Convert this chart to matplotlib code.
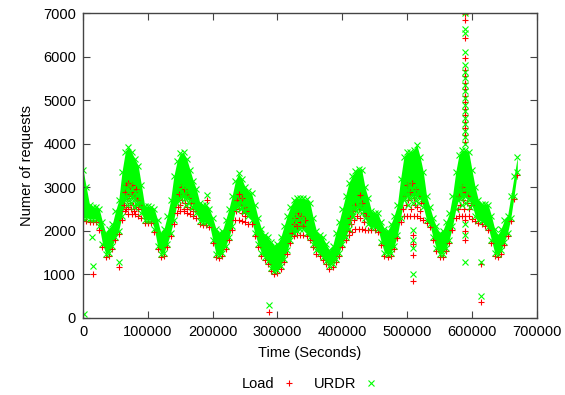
import matplotlib
matplotlib.use("Agg")
import matplotlib.pyplot as plt
from matplotlib.lines import Line2D

plt.rcParams['font.family'] = ['Liberation Sans', 'DejaVu Sans']

# sampling grid of the envelopes (seconds)
time_s = list(range(0, 670001, 5000))

# top of the URDR band
urdr_hi = [3400, 3000, 2600, 2550, 2550, 2500, 2200, 1950, 2050, 2150,
           2450, 2700, 3350, 3800, 3930, 3800, 3650, 3500, 3050, 2580,
           2560, 2550, 2500, 2250, 1950, 2050, 2350, 2700, 3250, 3600,
           3780, 3800, 3650, 3400, 3150, 2950, 2650, 2600, 2600, 2500,
           2300, 2050, 1950, 2000, 2250, 2500, 2800, 3150, 3320, 3200,
           3000, 2920, 2860, 2600, 2300, 2050, 1900, 1850, 1750, 1650,
           1700, 1850, 2100, 2350, 2550, 2700, 2750, 2750, 2750, 2720,
           2650, 2300, 2000, 1900, 1850, 1700, 1550, 1650, 1950, 2200,
           2500, 2800, 3100, 3250, 3380, 3430, 3400, 3000, 2750, 2450,
           2420, 2400, 2200, 2050, 2000, 2150, 2350, 2600, 3200, 3700,
           3800, 3820, 3850, 3980, 3700, 3350, 2800, 2550, 2300, 2100,
           1950, 2000, 2200, 2400, 2800, 3350, 3750, 3850, 3850, 3820,
           3400, 3000, 2700, 2620, 2620, 2600, 2350, 2050, 1900, 2050,
           2250, 2350, 2800, 3250, 3700]

# bottom of the dense URDR band
urdr_lo = [2300, 2300, 2280, 2280, 2280, 2100, 1700, 1480, 1500, 1650,
           1850, 2000, 2350, 2700, 2800, 2800, 2750, 2650, 2400, 2250,
           2250, 2250, 2050, 1650, 1480, 1500, 1700, 1950, 2250, 2650,
           2750, 2800, 2750, 2700, 2550, 2400, 2230, 2200, 2200, 2150,
           1800, 1480, 1450, 1500, 1650, 1850, 2100, 2500, 2600, 2550,
           2450, 2350, 2250, 1950, 1700, 1500, 1400, 1300, 1150, 1080,
           1100, 1200, 1350, 1550, 1800, 1950, 2000, 2050, 2050, 1950,
           1850, 1700, 1550, 1500, 1400, 1300, 1200, 1250, 1350, 1500,
           1700, 1850, 2050, 2350, 2500, 2550, 2500, 2300, 2150, 2080,
           2080, 2050, 1750, 1500, 1460, 1500, 1650, 1900, 2300, 2750,
           2800, 2800, 2800, 2800, 2750, 2550, 2250, 2150, 1850, 1600,
           1460, 1480, 1600, 1800, 2100, 2500, 2750, 2800, 2800, 2750,
           2600, 2350, 2250, 2220, 2180, 2080, 1800, 1500, 1460, 1550,
           1750, 1950, 2300, 2800, 3350]

# bottom of the Load band
load_lo = [2230, 2230, 2210, 2210, 2210, 2030, 1630, 1410, 1430, 1580,
           1780, 1930, 2250, 2450, 2380, 2380, 2380, 2350, 2300, 2180,
           2180, 2180, 1980, 1580, 1410, 1430, 1630, 1880, 2150, 2400,
           2450, 2450, 2400, 2380, 2350, 2300, 2160, 2130, 2130, 2080,
           1730, 1410, 1380, 1430, 1580, 1780, 2030, 2250, 2250, 2230,
           2200, 2150, 2150, 1880, 1630, 1430, 1330, 1230, 1080, 1010,
           1030, 1130, 1280, 1480, 1730, 1880, 1900, 1900, 1900, 1880,
           1780, 1630, 1480, 1430, 1330, 1230, 1130, 1180, 1280, 1430,
           1630, 1780, 1900, 1980, 2050, 2050, 2050, 2030, 2030, 2010,
           2010, 1980, 1680, 1430, 1390, 1430, 1580, 1830, 2200, 2350,
           2350, 2350, 2350, 2350, 2300, 2250, 2180, 2080, 1780, 1530,
           1390, 1410, 1530, 1730, 2030, 2300, 2350, 2350, 2350, 2330,
           2280, 2230, 2180, 2150, 2110, 2010, 1730, 1430, 1390, 1480,
           1680, 1880, 2230, 2730, 3280]

# scattered points inside the daily peaks
load_peak = [(63000, 2600), (65000, 2900), (66000, 2500), (67000, 3050), (68000, 2750),
             (69000, 2550), (70000, 3100), (71000, 2850), (72000, 2650), (73000, 3000),
             (74000, 2500), (75000, 2800), (76000, 3050), (77000, 2600), (78000, 2900),
             (79000, 2450), (80000, 2750), (81000, 2950), (82000, 2550), (83000, 2700),
             (85000, 2500), (86000, 2600),
             (146000, 2550), (148000, 2850), (150000, 2600), (151000, 3000), (153000, 2700),
             (155000, 2500), (156000, 2950), (158000, 2650), (160000, 2850), (161000, 2550),
             (163000, 2750), (165000, 2500), (167000, 2650), (169000, 2450),
             (191000, 2700),
             (236000, 2450), (238000, 2700), (240000, 2500), (241000, 2850), (243000, 2600),
             (245000, 2400), (246000, 2750), (248000, 2550), (250000, 2350), (252000, 2450),
             (322000, 1950), (325000, 2150), (327000, 2300), (330000, 2100), (332000, 2400),
             (334000, 2200), (337000, 2350), (339000, 2100), (342000, 2250),
             (410000, 2000), (412000, 2300), (414000, 2150), (416000, 2450), (418000, 2250),
             (420000, 2600), (422000, 2350), (426000, 2500), (427000, 2820), (428000, 2300),
             (430000, 2650), (432000, 2400), (434000, 2200), (436000, 2350),
             (494000, 2500), (496000, 2800), (498000, 2600), (500000, 3050), (502000, 2700),
             (504000, 2900), (506000, 2500), (508000, 3100), (510000, 2750), (512000, 2600),
             (514000, 2950), (516000, 2550), (518000, 2800), (520000, 2450), (522000, 2650),
             (578000, 2500), (580000, 2800), (582000, 2600), (584000, 3000), (586000, 2700),
             (588000, 2500), (590000, 2900), (592000, 2650), (594000, 2800), (596000, 2500),
             (598000, 2600)]

urdr_peak = [(64000, 2750), (66000, 3000), (68000, 2600), (69000, 2900), (71000, 2700),
             (72000, 3050), (74000, 2650), (75000, 2950), (77000, 2750), (78000, 2550),
             (80000, 2900), (81000, 2650), (83000, 2850), (84000, 2600),
             (147000, 2700), (149000, 2950), (152000, 2800), (154000, 3000), (157000, 2750),
             (159000, 2600), (162000, 2900), (164000, 2650), (166000, 2800), (168000, 2550),
             (191000, 2820),
             (237000, 2550), (239000, 2650), (242000, 2700), (244000, 2500), (247000, 2600),
             (249000, 2450),
             (323000, 2100), (326000, 2300), (329000, 2200), (331000, 2450), (335000, 2300),
             (338000, 2200), (341000, 2400),
             (411000, 2200), (413000, 2450), (415000, 2650), (417000, 2350), (419000, 2550),
             (421000, 2450), (423000, 2700), (425000, 2600), (429000, 2500), (431000, 2400),
             (433000, 2550),
             (495000, 2700), (497000, 3000), (499000, 2850), (501000, 2600), (503000, 3050),
             (505000, 2750), (507000, 2950), (509000, 2650), (511000, 2900), (513000, 2700),
             (515000, 3000), (517000, 2650), (519000, 2850),
             (579000, 2700), (581000, 3000), (583000, 2750), (585000, 2600), (587000, 2950),
             (589000, 2800), (591000, 2650), (593000, 2900), (595000, 2700), (597000, 2550)]

# outliers
load_out = [(14900, 1010), (55500, 1160), (286800, 145),
            (509400, 1900), (509400, 1700), (509400, 1450), (509400, 856),
            (589000, 2250), (589000, 2000), (589000, 1790),
            (614700, 1250), (614700, 374)]
urdr_out = [(1000, 100), (13400, 1866), (14900, 1190), (55500, 1290), (286800, 300),
            (509400, 2020), (509400, 1790), (509400, 1600), (509400, 1010),
            (589000, 2150), (589000, 1900), (589000, 1290),
            (614700, 1290), (614700, 505)]

# the burst near 589000 s
spike_t = 589000
spike_load = [4050, 4200, 4350, 4500, 4650, 4800, 4950, 5100, 5250, 5400,
              5550, 5700, 5960, 6420, 6840, 6970]
spike_urdr = [4000, 4150, 4300, 4450, 4600, 4750, 4900, 5050, 5200, 5350,
              5500, 5650, 5806, 6112, 6535, 6630, 7000]

RED = '#ff0000'
GREEN = '#00ff00'

fig = plt.figure(figsize=(5.65, 3.95), dpi=100)
ax = fig.add_axes([0.147, 0.195, 0.803, 0.772])

mk_load = dict(linestyle='none', marker='+', color=RED, ms=5, mew=0.8)
mk_urdr = dict(linestyle='none', marker='x', color=GREEN, ms=4.5, mew=0.8)

# Load first, URDR drawn on top
ax.plot(time_s, load_lo, **mk_load)
ax.plot([p[0] for p in load_peak], [p[1] for p in load_peak], **mk_load)
ax.plot([p[0] for p in load_out], [p[1] for p in load_out], **mk_load)
ax.plot([spike_t] * len(spike_load), spike_load, **mk_load)

ax.fill_between(time_s, urdr_lo, urdr_hi, color=GREEN, lw=0)
ax.plot(time_s, urdr_hi, **mk_urdr)
ax.plot(time_s, urdr_lo, **mk_urdr)
ax.plot([p[0] for p in urdr_peak], [p[1] for p in urdr_peak], **mk_urdr)
ax.plot([p[0] for p in urdr_out], [p[1] for p in urdr_out], **mk_urdr)
ax.plot([spike_t] * len(spike_urdr), spike_urdr, **mk_urdr)

ax.set_xlim(0, 700000)
ax.set_ylim(0, 7000)
ax.set_xticks(range(0, 700001, 100000))
ax.set_yticks(range(0, 7001, 1000))
ax.tick_params(direction='in', top=True, right=True, length=5, labelsize=10.5,
               color='#444444', pad=5)
for s in ax.spines.values():
    s.set_color('#444444')
    s.set_linewidth(1)

ax.set_xlabel("Time (Seconds)", fontsize=10.5, labelpad=5)
ax.set_ylabel("Numer of requests", fontsize=10.5, labelpad=7)

handles = [Line2D([], [], **mk_load), Line2D([], [], **mk_urdr)]
ax.legend(handles, ["Load", "URDR"], loc='upper center', bbox_to_anchor=(0.5, -0.15),
          ncol=2, frameon=False, markerfirst=False, fontsize=10.5,
          handlelength=1, handletextpad=0.5, columnspacing=1.2)

fig.savefig("out.png", dpi=100)
